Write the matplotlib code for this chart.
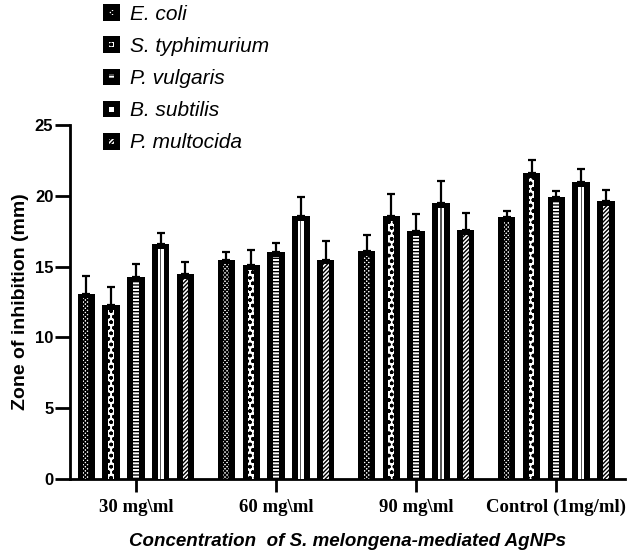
import matplotlib
matplotlib.use("Agg")
import matplotlib.pyplot as plt
import numpy as np
from matplotlib.patches import Rectangle
from matplotlib.legend_handler import HandlerBase

categories = ["30 mg\\ml", "60 mg\\ml", "90 mg\\ml", "Control (1mg/ml)"]
series = ["E. coli", "S. typhimurium", "P. vulgaris", "B. subtilis", "P. multocida"]
values = {
    "E. coli":        [13.1, 15.5, 16.1, 18.5],
    "S. typhimurium": [12.3, 15.1, 18.6, 21.6],
    "P. vulgaris":    [14.3, 16.0, 17.5, 19.9],
    "B. subtilis":    [16.6, 18.6, 19.5, 21.0],
    "P. multocida":   [14.5, 15.5, 17.6, 19.6],
}
errors = {
    "E. coli":        [1.25, 0.55, 1.1, 0.4],
    "S. typhimurium": [1.25, 1.05, 1.5, 0.9],
    "P. vulgaris":    [0.85, 0.65, 1.25, 0.45],
    "B. subtilis":    [0.75, 1.3, 1.55, 0.9],
    "P. multocida":   [0.85, 1.3, 1.2, 0.8],
}
hatches = ["xxxxxxxx", "ooo", "-----", None, "////////"]

plt.rcParams["hatch.linewidth"] = 1.0
plt.rcParams["font.family"] = ["Liberation Sans", "DejaVu Sans"]

fig = plt.figure(figsize=(6.31, 5.59), dpi=100)
ax = fig.add_axes([70/631, 1-479/559, 555/631, 354/559])

x = np.arange(len(categories))
step = 0.177
outer_w = 0.124
inner_w = 0.042
border = 0.35

for i, s in enumerate(series):
    xs = x + (i - 2) * step
    v = np.array(values[s])
    e = np.array(errors[s])
    ax.errorbar(xs, v, yerr=[np.zeros_like(e), e], fmt="none", ecolor="black",
                elinewidth=1.6, capsize=3, capthick=1.6, zorder=1)
    ax.bar(xs, v, width=outer_w, color="black", edgecolor="black", linewidth=0, zorder=2)
    ax.bar(xs, v - border, width=inner_w, color="white", edgecolor="black",
           linewidth=0, hatch=hatches[i], zorder=3)
    if hatches[i] is None:
        ax.bar(xs, v - border, width=0.008, color="#555555", linewidth=0, zorder=4)

ax.set_xlim(-0.47, 3.49)
ax.set_ylim(0, 25)
ax.set_yticks([0, 5, 10, 15, 20, 25])
ax.set_xticks(x)
ax.set_xticklabels(categories, fontfamily="Liberation Serif", fontweight="bold", fontsize=13.5)
for lab in ax.get_yticklabels():
    lab.set_fontweight("bold")
    lab.set_fontsize(12)
ax.spines["top"].set_visible(False)
ax.spines["right"].set_visible(False)
ax.spines["left"].set_linewidth(2)
ax.spines["bottom"].set_linewidth(2)
ax.tick_params(axis="y", length=11, width=2, pad=1)
ax.tick_params(axis="x", length=9.5, width=2, pad=5)

ax.set_ylabel("Zone of inhibition (mm)", fontweight="bold", fontsize=14, labelpad=4)
ax.set_xlabel("Concentration  of S. melongena-mediated AgNPs", fontweight="bold",
              fontstyle="italic", fontsize=13.5, labelpad=12)


class BoxHandler(HandlerBase):
    def __init__(self, hatch):
        super().__init__()
        self.hatch = hatch

    def create_artists(self, legend, orig_handle, xdescent, ydescent, width, height, fontsize, trans):
        s = min(width, height) * 1.15
        x0 = -xdescent + (width - s) / 2
        y0 = -ydescent + (height - s) / 2
        outer = Rectangle((x0, y0), s, s, facecolor="black", edgecolor="black", lw=0, transform=trans)
        si = s * 0.3
        inner = Rectangle((x0 + (s - si) / 2, y0 + (s - si) / 2), si, si, facecolor="white",
                          edgecolor="black", lw=0, hatch=self.hatch, transform=trans)
        return [outer, inner]


handles = [Rectangle((0, 0), 1, 1) for _ in series]
hmap = {h: BoxHandler(hatches[i]) for i, h in enumerate(handles)}
leg = fig.legend(handles, series, handler_map=hmap, loc="upper left",
                 bbox_to_anchor=(101/631, 1 - 5/559), frameon=False,
                 prop={"style": "italic", "size": 15}, labelspacing=0.63,
                 handlelength=1.0, handletextpad=0.39, borderaxespad=0, borderpad=0.0)

fig.savefig("out.png", dpi=100)
